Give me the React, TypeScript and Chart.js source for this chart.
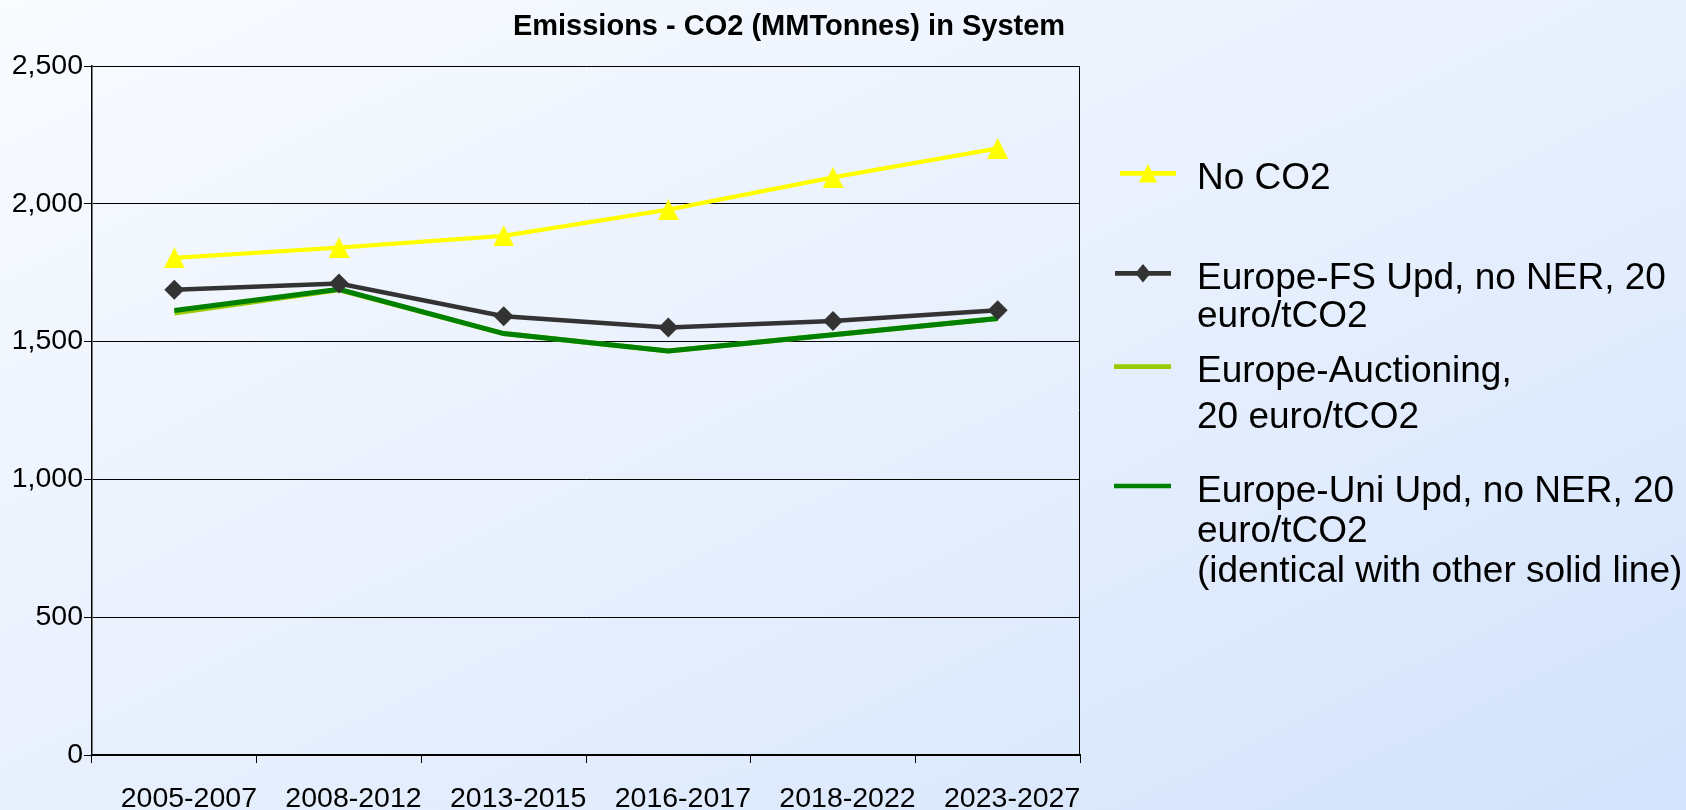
import React, { useEffect, useRef } from 'react';
import { Chart, registerables } from 'chart.js';

Chart.register(...registerables);

// ---- data ----
const categories = ['2005-2007', '2008-2012', '2013-2015', '2016-2017', '2018-2022', '2023-2027'];
const noCO2 = [1804, 1841, 1884, 1979, 2096, 2201];
const fsUpd = [1688, 1711, 1592, 1551, 1575, 1614];
const auctioning = [1604, 1688, 1529, 1466, 1525, 1584];
const uniUpd = [1613, 1690, 1529, 1466, 1525, 1584];
const yTickValues = [0, 500, 1000, 1500, 2000, 2500];
const titleText = 'Emissions - CO2 (MMTonnes) in System';
const legendNoCO2 = ['No CO2'];
const legendFS = ['Europe-FS Upd, no NER, 20', 'euro/tCO2'];
const legendAuction = ['Europe-Auctioning,', '20 euro/tCO2'];
const legendUni = ['Europe-Uni Upd, no NER, 20', 'euro/tCO2', '(identical with other solid line)'];

const FONT = "'Liberation Sans', Arial, Helvetica, sans-serif";
const W = 1686;
const H = 810;
const TICK_SIZE = 28.5;
const LEGEND_SIZE = 37;
const TITLE_SIZE = 29;

function makeTriangle(w: number, h: number, color: string) {
  const c = document.createElement('canvas');
  c.width = w;
  c.height = h;
  const ctx = c.getContext('2d')!;
  ctx.fillStyle = color;
  ctx.beginPath();
  ctx.moveTo(w / 2, 0);
  ctx.lineTo(w, h);
  ctx.lineTo(0, h);
  ctx.closePath();
  ctx.fill();
  return c;
}

// legend layout (positions only; cap-centre y of each text line)
const legendLayout = [
  { ds: 0, x0: 1120, x1: 1176, ly: 173.3, marker: 'tri', mx: 1148, lines: [176.2] },
  { ds: 1, x0: 1115, x1: 1171, ly: 273.3, marker: 'dia', mx: 1143, lines: [275.8, 313.5] },
  { ds: 2, x0: 1114, x1: 1171, ly: 366.7, marker: '', mx: 0, lines: [368.8, 414.5] },
  { ds: 3, x0: 1114, x1: 1171, ly: 486, marker: '', mx: 0, lines: [488.8, 528.6, 569] },
];

const overlayPlugin = {
  id: 'overlay',
  beforeDatasetsDraw(chart: any) {
    const { ctx, chartArea } = chart;
    ctx.save();
    ctx.strokeStyle = '#000';
    ctx.lineWidth = 1;
    ctx.beginPath();
    ctx.moveTo(chartArea.right - 0.5, chartArea.top);
    ctx.lineTo(chartArea.right - 0.5, chartArea.bottom);
    ctx.stroke();
    ctx.restore();
  },
  afterDraw(chart: any) {
    const { ctx } = chart;
    ctx.save();
    // title
    ctx.fillStyle = '#000';
    ctx.font = `bold ${TITLE_SIZE}px ${FONT}`;
    ctx.textAlign = 'center';
    ctx.textBaseline = 'alphabetic';
    ctx.fillText(titleText, 789, 25 + 0.358 * TITLE_SIZE);

    // legend
    const datasets = chart.data.datasets;
    legendLayout.forEach((item) => {
      const ds = datasets[item.ds];
      ctx.strokeStyle = ds.borderColor;
      ctx.lineWidth = 4.7;
      ctx.beginPath();
      ctx.moveTo(item.x0, item.ly);
      ctx.lineTo(item.x1, item.ly);
      ctx.stroke();
      ctx.fillStyle = ds.borderColor;
      if (item.marker === 'tri') {
        ctx.beginPath();
        ctx.moveTo(item.mx, item.ly - 9.3);
        ctx.lineTo(item.mx + 9, item.ly + 9.3);
        ctx.lineTo(item.mx - 9, item.ly + 9.3);
        ctx.closePath();
        ctx.fill();
      } else if (item.marker === 'dia') {
        ctx.beginPath();
        ctx.moveTo(item.mx, item.ly - 9.2);
        ctx.lineTo(item.mx + 7.7, item.ly);
        ctx.lineTo(item.mx, item.ly + 9.2);
        ctx.lineTo(item.mx - 7.7, item.ly);
        ctx.closePath();
        ctx.fill();
      }
      ctx.fillStyle = '#000';
      ctx.font = `${LEGEND_SIZE}px ${FONT}`;
      ctx.textAlign = 'left';
      ctx.textBaseline = 'alphabetic';
      const texts: string[] = ds.legendText;
      texts.forEach((t, i) => {
        ctx.fillText(t, 1197, item.lines[i] + 0.358 * LEGEND_SIZE);
      });
    });
    ctx.restore();
  },
};

export default function App() {
  const ref = useRef<HTMLCanvasElement | null>(null);

  useEffect(() => {
    document.body.style.margin = '0';
    const canvas = ref.current!;
    const tri = makeTriangle(21, 21, '#ffff00');
    const chart = new Chart(canvas, {
      type: 'line',
      data: {
        labels: categories,
        datasets: [
          {
            label: legendNoCO2.join(' '),
            legendText: legendNoCO2,
            data: noCO2,
            borderColor: '#ffff00',
            backgroundColor: '#ffff00',
            borderWidth: 4.3,
            pointStyle: tri,
            pointRadius: 10,
            order: 0,
          } as any,
          {
            label: legendFS.join(' '),
            legendText: legendFS,
            data: fsUpd,
            borderColor: '#333333',
            backgroundColor: '#333333',
            borderWidth: 4.6,
            pointStyle: 'rectRot',
            pointRadius: 10,
            pointBorderWidth: 0,
            order: 1,
          } as any,
          {
            label: legendAuction.join(' '),
            legendText: legendAuction,
            data: auctioning,
            borderColor: '#99cc00',
            backgroundColor: '#99cc00',
            borderWidth: 5,
            pointRadius: 0,
            order: 3,
          } as any,
          {
            label: legendUni.join(' '),
            legendText: legendUni,
            data: uniUpd,
            borderColor: '#008000',
            backgroundColor: '#008000',
            borderWidth: 5,
            pointRadius: 0,
            order: 2,
          } as any,
        ],
      },
      options: {
        animation: false,
        responsive: false,
        devicePixelRatio: 1,
        layout: { padding: { top: 66, right: W - 1080, left: 0, bottom: 0 } },
        plugins: {
          legend: { display: false },
          title: { display: false },
          tooltip: { enabled: false },
        },
        elements: { line: { tension: 0 } },
        scales: {
          x: {
            offset: true,
            afterFit: (s: any) => {
              s.height = 55;
            },
            grid: {
              offset: true,
              drawOnChartArea: false,
              drawTicks: true,
              tickLength: 8,
              color: '#000',
              lineWidth: 1,
            },
            border: { display: true, color: '#000', width: 2 },
            ticks: {
              color: '#000',
              padding: 19,
              labelOffset: 14.5,
              maxRotation: 0,
              autoSkip: false,
              font: { family: FONT, size: TICK_SIZE },
            },
          },
          y: {
            min: 0,
            max: 2500,
            afterFit: (s: any) => {
              s.width = 92;
            },
            afterBuildTicks: (s: any) => {
              s.ticks = yTickValues.map((v) => ({ value: v }));
            },
            grid: {
              color: '#000',
              lineWidth: 1,
              drawTicks: true,
              tickLength: 8,
            },
            border: { display: true, color: '#000', width: 1.5 },
            ticks: {
              color: '#000',
              padding: 1,
              font: { family: FONT, size: TICK_SIZE },
              callback: (v: any) => Number(v).toLocaleString('en-US'),
            },
          },
        },
      },
      plugins: [overlayPlugin],
    });
    return () => chart.destroy();
  }, []);

  return (
    <div
      style={{
        position: 'fixed',
        left: 0,
        top: 0,
        width: W,
        height: H,
        background: 'linear-gradient(to bottom right, #f9fbff 0%, #e8f0fd 50%, #d3e3fc 100%)',
        overflow: 'hidden',
      }}
    >
      <canvas ref={ref} width={W} height={H} style={{ display: 'block', width: W, height: H }} />
    </div>
  );
}
